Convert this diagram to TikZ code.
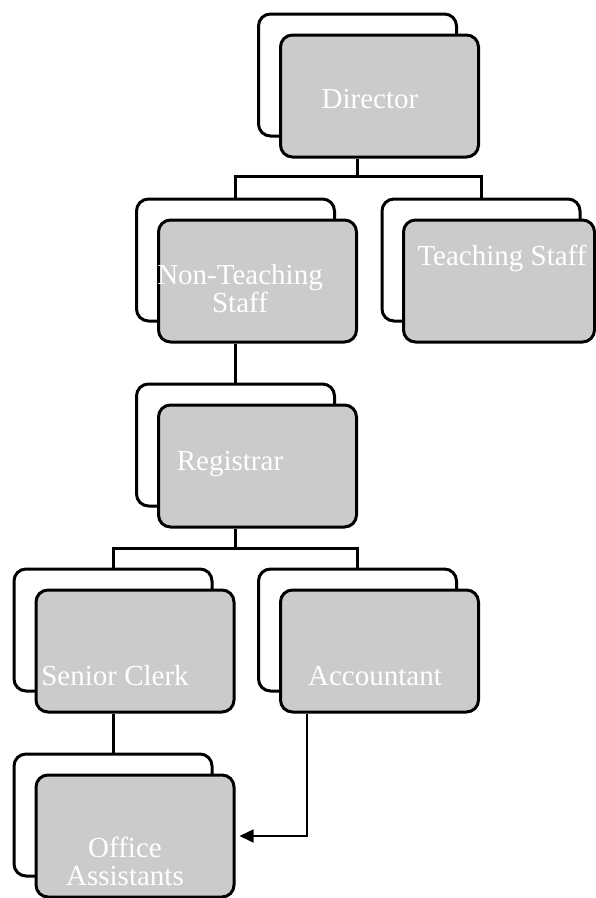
\documentclass[tikz,border=0pt]{standalone}
\usepackage{fontspec}
\setmainfont{Liberation Serif}
\usetikzlibrary{arrows.meta,positioning}
\definecolor{boxgray}{HTML}{CBCBCB}
\tikzstyle{every picture}=[x=1pt, y=-1pt, line width=3pt]
\tikzstyle{backbox}=[draw, fill=white, rounded corners=12pt, minimum width=198pt,%
	minimum height=122pt, inner sep=0pt]
\tikzstyle{frontbox}=[backbox, fill=boxgray]
\tikzstyle{boxtext}=[text=white, font=\fontsize{29}{28}\selectfont, align=center, inner sep=0pt]
\tikzstyle{arrowlink}=[line width=1.5pt, shorten >=4pt, -{Triangle[length=14pt,width=13pt]}]

\begin{document}
\begin{tikzpicture}
	\useasboundingbox (0,0) rectangle (596,898);
	\node[backbox] (dirB) at (357.5,75) {};
	\node[frontbox] (dirF) at ([shift={(22,21)}]dirB) {};
	\node[boxtext, anchor=base] (dirT) at (370,108) {Director};

	\node[backbox] (ntB) at (235.5,260) {};
	\node[frontbox] (ntF) at ([shift={(22,21)}]ntB) {};
	\node[boxtext] (ntT) at (240,289) {Non-Teaching\\Staff};

	\node[backbox] (tsB) at (481,260) {};
	\node[frontbox, minimum width=191pt] (tsF) at ([shift={(18,21)}]tsB) {};
	\node[boxtext, anchor=base] (tsT) at (502,265) {Teaching Staff};

	\node[backbox] (regB) at (235.5,445) {};
	\node[frontbox] (regF) at ([shift={(22,21)}]regB) {};
	\node[boxtext, anchor=base] (regT) at (230,470) {Registrar};

	\node[backbox] (scB) at (113,630) {};
	\node[frontbox] (scF) at ([shift={(22,21)}]scB) {};
	\node[boxtext, anchor=base] (scT) at (115,685) {Senior Clerk};

	\node[backbox] (accB) at (357.5,630) {};
	\node[frontbox] (accF) at ([shift={(22,21)}]accB) {};
	\node[boxtext, anchor=base] (accT) at (375,685) {Accountant};

	\node[backbox] (oaB) at (113,815) {};
	\node[frontbox] (oaF) at ([shift={(22,21)}]oaB) {};
	\node[boxtext] (oaT) at (125,861) {Office\\Assistants};

	\draw (dirB |- dirF.south) -- ++(0,18) -| (ntB.north);
	\draw (dirB |- dirF.south) -- ++(0,18) -| (tsB.north);
	\draw (ntB |- ntF.south) -- (regB.north);
	\draw (regB |- regF.south) -- ++(0,20) -| (scB.north);
	\draw (regB |- regF.south) -- ++(0,20) -| (accB.north);
	\draw (scB |- scF.south) -- (oaB.north);
	\draw[arrowlink] ([xshift=28pt]accF.south west) |- (oaF.east);
\end{tikzpicture}
\end{document}
